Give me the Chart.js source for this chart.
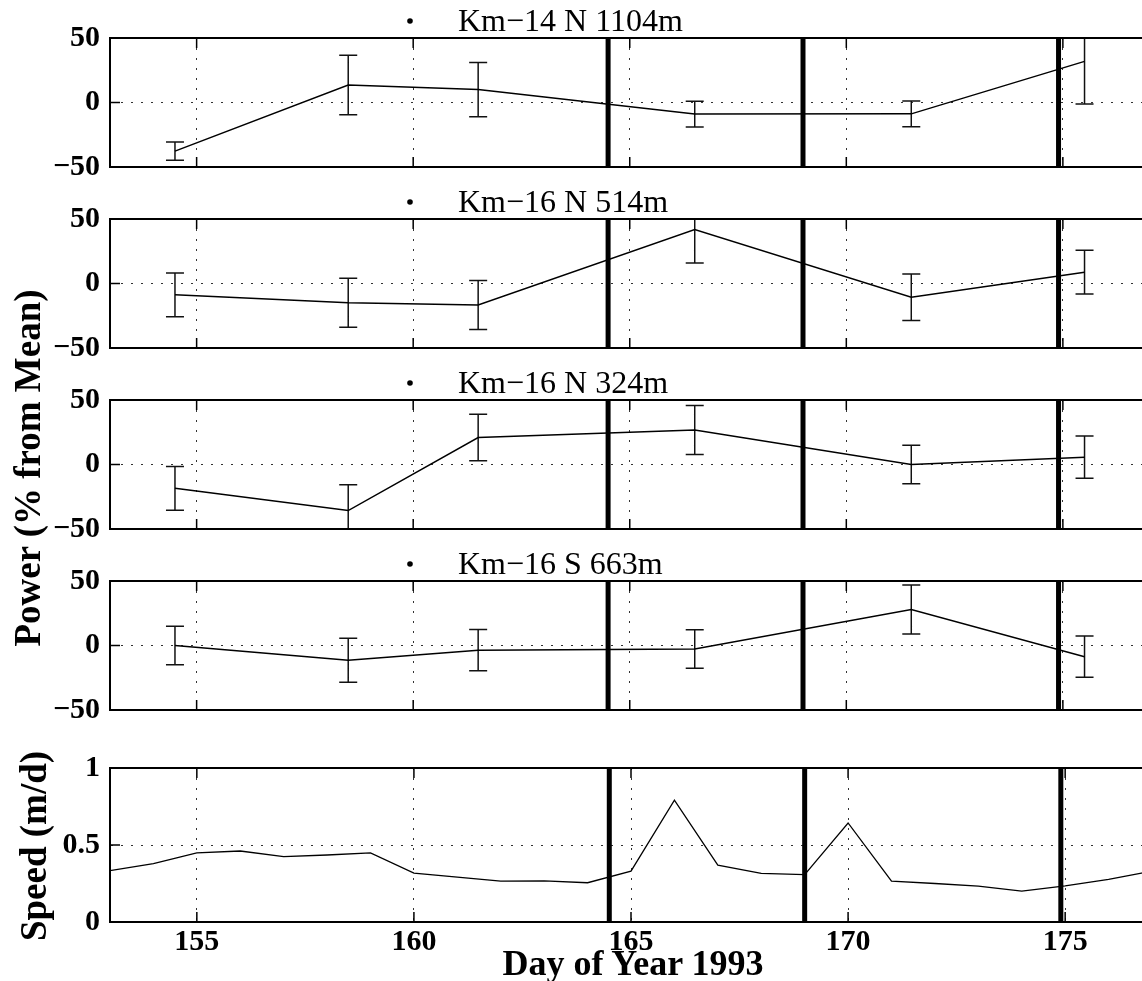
<!DOCTYPE html>
<html>
<head>
<meta charset="utf-8">
<script src="https://cdn.jsdelivr.net/npm/chart.js@4.4.1/dist/chart.umd.min.js"></script>
<style>
  body { margin: 0; background: #fff; }
  #figure { position: relative; width: 1142px; height: 981px; overflow: hidden;
            font-family: "Liberation Serif", "Times New Roman", serif; }
  #figure canvas { position: absolute; left: 0; }
  .axis-title { position: absolute; font-weight: bold; font-size: 37px; line-height: 1;
                white-space: nowrap; color: #000; }
  .vertical { transform: translate(-50%, -50%) rotate(-90deg); }
  .horizontal { transform: translateX(-50%); font-size: 36px; }
</style>
</head>
<body>
<div id="figure">
  <canvas id="p1" width="1160" height="195" style="top:0px"></canvas>
  <canvas id="p2" width="1160" height="195" style="top:181px"></canvas>
  <canvas id="p3" width="1160" height="195" style="top:362px"></canvas>
  <canvas id="p4" width="1160" height="195" style="top:543px"></canvas>
  <canvas id="p5" width="1160" height="241" style="top:740px"></canvas>
  <div class="axis-title vertical" style="left:27px; top:468px">Power (% from Mean)</div>
  <div class="axis-title vertical" style="left:33px; top:846px">Speed (m/d)</div>
  <div class="axis-title horizontal" style="left:633px; top:945px">Day of Year 1993</div>
</div>
<script>
// sampling days of the spectral estimates
const sampleDays = [154.5, 158.5, 161.5, 166.5, 171.5, 175.5];

// power anomaly (% from mean) and error half-widths per mooring
const km14N1104 = [-37.7, 13.6, 10.0, -9.0, -8.8, 31.9];
const km14N1104Err = [7, 23, 21, 10, 10, 33];
const km16N514 = [-8.8, -14.9, -16.6, 41.8, -10.7, 8.8];
const km16N514Err = [17, 19, 19, 26, 18, 17];
const km16N324 = [-18.5, -35.7, 20.9, 26.8, 0.0, 5.7];
const km16N324Err = [17, 20, 18, 19, 15, 16.4];
const km16S663 = [0.0, -11.4, -3.6, -2.7, 27.9, -8.7];
const km16S663Err = [15, 17, 16, 15, 19, 16];

// daily speed
const speedDays = [153, 154, 155, 156, 157, 158, 159, 160, 161, 162, 163, 164, 165,
  166, 167, 168, 169, 170, 171, 172, 173, 174, 175, 176, 177];
const speed = [0.333, 0.379, 0.449, 0.461, 0.425, 0.435, 0.449, 0.318, 0.291, 0.265,
  0.267, 0.255, 0.330, 0.791, 0.369, 0.316, 0.308, 0.643, 0.265, 0.250, 0.233, 0.201,
  0.235, 0.277, 0.330];

// event markers (thick vertical lines)
const eventDays = [164.5, 169.0, 174.9];

const dayRange = [153, 177];
const dayTicks = [155, 160, 165, 170, 175];
const powerTicks = [-50, 0, 50];
const speedTicks = [0, 0.5, 1];

Chart.defaults.font.family = '"Liberation Serif", "Times New Roman", serif';
Chart.defaults.color = "#000";

//------------------------------------------------------------------------
// box around the axes plus inward tick marks
const frame = {
  id: "frame",
  afterDatasetsDraw(chart) {
    const { ctx, chartArea: a, scales } = chart;
    ctx.save();
    ctx.strokeStyle = "#000";
    ctx.lineWidth = 2;
    ctx.strokeRect(a.left, a.top, a.right - a.left, a.bottom - a.top);
    ctx.lineWidth = 1.5;
    ctx.beginPath();
    for (const t of scales.x.ticks) {
      const px = scales.x.getPixelForValue(t.value);
      ctx.moveTo(px, a.bottom);
      ctx.lineTo(px, a.bottom - 10);
      ctx.moveTo(px, a.top);
      ctx.lineTo(px, a.top + 10);
    }
    for (const t of scales.y.ticks) {
      const py = scales.y.getPixelForValue(t.value);
      ctx.moveTo(a.left, py);
      ctx.lineTo(a.left + 10, py);
    }
    ctx.stroke();
    ctx.restore();
  },
};

// legend-like tag over each panel: a dot marker and the mooring name
const tag = {
  id: "tag",
  afterDraw(chart, args, opts) {
    if (!opts.text) return;
    const { ctx, chartArea } = chart;
    ctx.save();
    ctx.fillStyle = "#000";
    ctx.beginPath();
    ctx.arc(opts.dotX, chartArea.top - 17, 2.8, 0, Math.PI * 2);
    ctx.fill();
    ctx.font = '32px "Liberation Serif"';
    ctx.textBaseline = "alphabetic";
    ctx.fillText(opts.text, opts.textX, chartArea.top - 7);
    ctx.restore();
  },
};

function minusSign(v) {
  return v < 0 ? "\u2212" + Math.abs(v) : String(v);
}

function errorBars(values, errors) {
  const pts = [];
  sampleDays.forEach((d, i) => {
    pts.push({ x: d, y: values[i] - errors[i] });
    pts.push({ x: d, y: values[i] + errors[i] });
    pts.push({ x: d, y: null });
  });
  return pts;
}

function eventLines(lo, hi) {
  const pts = [];
  for (const d of eventDays) {
    pts.push({ x: d, y: lo });
    pts.push({ x: d, y: hi });
    pts.push({ x: d, y: null });
  }
  return pts;
}

function xAxis(showLabels, height) {
  return {
    type: "linear",
    min: dayRange[0],
    max: dayRange[1],
    afterBuildTicks: (s) => {
      s.ticks = dayTicks.map((v) => ({ value: v }));
    },
    afterFit: (s) => {
      s.height = height;
    },
    grid: { color: "#333", lineWidth: 1, drawTicks: false },
    border: { display: true, color: "#000", width: 2, dash: [2, 8] },
    ticks: {
      display: showLabels,
      padding: 2,
      maxRotation: 0,
      font: { size: 30, weight: "bold" },
    },
  };
}

function yAxis(ticks, lo, hi) {
  return {
    min: lo,
    max: hi,
    afterBuildTicks: (s) => {
      s.ticks = ticks.map((v) => ({ value: v }));
    },
    afterFit: (s) => {
      s.width = 110;
    },
    grid: { color: "#333", lineWidth: 1, drawTicks: false },
    border: { display: true, color: "#000", width: 2, dash: [2, 8] },
    ticks: {
      padding: 10,
      font: { size: 30, weight: "bold" },
      callback: (v) => minusSign(v),
    },
  };
}

function powerPanel(id, name, values, errors) {
  return new Chart(document.getElementById(id), {
    type: "scatter",
    data: {
      datasets: [
        {
          data: sampleDays.map((d, i) => ({ x: d, y: values[i] })),
          showLine: true,
          borderColor: "#000",
          borderWidth: 1.5,
          pointRadius: 0,
        },
        {
          data: errorBars(values, errors),
          showLine: true,
          borderColor: "#111",
          borderWidth: 1.5,
          pointStyle: "line",
          pointRadius: 9,
          pointBorderWidth: 1.5,
          pointBorderColor: "#111",
        },
        {
          data: eventLines(-50, 50),
          showLine: true,
          borderColor: "#000",
          borderWidth: 5,
          pointRadius: 0,
        },
      ],
    },
    options: {
      responsive: false,
      animation: false,
      events: [],
      layout: { padding: { top: 38, bottom: 20, left: 0, right: 8 } },
      plugins: {
        legend: { display: false },
        tooltip: { enabled: false },
        tag: { text: name, dotX: 410, textX: 458 },
      },
      scales: { x: xAxis(false, 0), y: yAxis(powerTicks, -50, 50) },
    },
    plugins: [frame, tag],
  });
}

powerPanel("p1", "Km\u221214 N 1104m", km14N1104, km14N1104Err);
powerPanel("p2", "Km\u221216 N 514m", km16N514, km16N514Err);
powerPanel("p3", "Km\u221216 N 324m", km16N324, km16N324Err);
powerPanel("p4", "Km\u221216 S 663m", km16S663, km16S663Err);

new Chart(document.getElementById("p5"), {
  type: "scatter",
  data: {
    datasets: [
      {
        data: speedDays.map((d, i) => ({ x: d, y: speed[i] })),
        showLine: true,
        borderColor: "#000",
        borderWidth: 1.3,
        pointRadius: 0,
      },
      {
        data: eventLines(0, 1),
        showLine: true,
        borderColor: "#000",
        borderWidth: 5,
        pointRadius: 0,
      },
    ],
  },
  options: {
    responsive: false,
    animation: false,
    events: [],
    layout: { padding: { top: 25, bottom: 0, left: 0, right: 8 } },
    plugins: { legend: { display: false }, tooltip: { enabled: false } },
    scales: { x: xAxis(true, 59), y: yAxis(speedTicks, 0, 1) },
  },
  plugins: [frame],
});
</script>
</body>
</html>
